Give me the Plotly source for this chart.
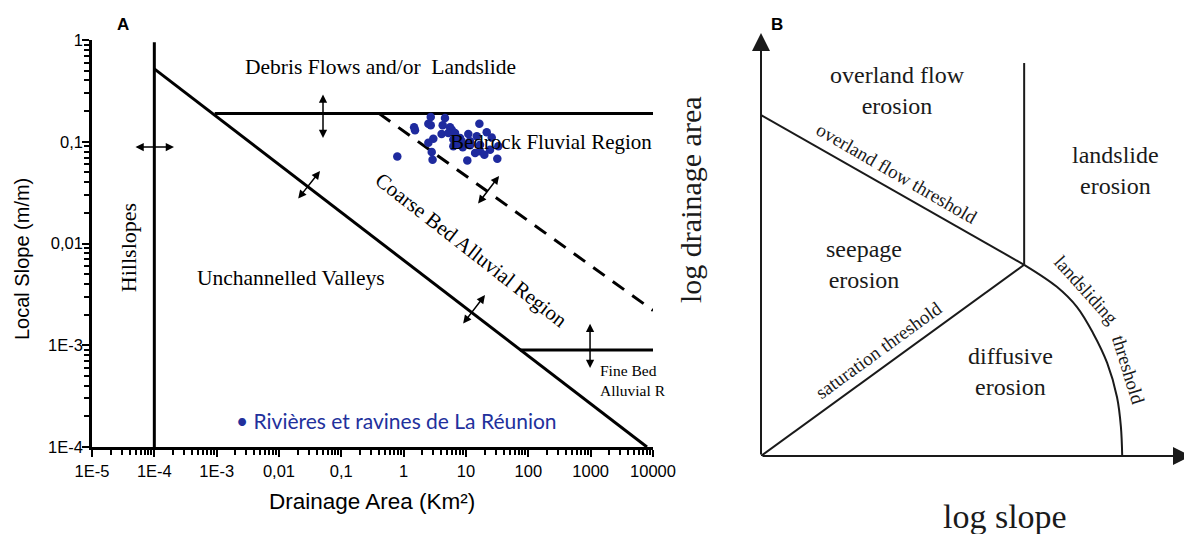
import math
import plotly.graph_objects as go

# ---------------- Panel A : axes ticks ----------------
area_ticks = [1e-5, 1e-4, 1e-3, 1e-2, 1e-1, 1, 10, 100, 1000, 10000]
area_labels = ["1E-5", "1E-4", "1E-3", "0,01", "0,1", "1", "10", "100", "1000", "10000"]
slope_ticks = [1e-4, 1e-3, 1e-2, 1e-1, 1]
slope_labels = ["1E-4", "1E-3", "0,01", "0,1", "1"]

# ---------------- Panel A : Réunion rivers (area km², slope m/m) ----------------
reunion_area = [2.72, 4.60, 1.47, 1.52, 2.49, 2.72, 4.23, 5.55, 5.90, 16.4,
                4.06, 2.99, 2.49, 6.67, 6.27, 8.02, 10.9, 8.53, 11.6, 14.9,
                21.5, 25.9, 6.27, 8.87, 11.6, 16.8, 24.3, 33.0, 2.82, 2.91,
                0.79, 10.5, 14.0, 16.8, 19.7, 31.8, 7.08, 5.21]
reunion_slope = [0.175, 0.171, 0.139, 0.130, 0.150, 0.145, 0.145, 0.139, 0.131, 0.150,
                 0.119, 0.107, 0.0977, 0.122, 0.105, 0.109, 0.119, 0.101, 0.101, 0.113,
                 0.124, 0.110, 0.0902, 0.0881, 0.0923, 0.0935, 0.0834, 0.0902, 0.0793, 0.0665,
                 0.0718, 0.0656, 0.0774, 0.0805, 0.0745, 0.0681, 0.0935, 0.122]

# ---------------- Panel A : process-domain boundaries ----------------
hillslope_x = [1e-4, 1e-4]
hillslope_y = [1e-4, 0.95]
valley_x = [1e-4, 8000]
valley_y = [0.52, 1e-4]
debris_x = [9.3e-4, 1e4]
debris_y = [0.19, 0.19]
bedrock_x = [0.40, 1e4]
bedrock_y = [0.19, 0.0022]
finebed_x = [74, 1e4]
finebed_y = [9e-4, 9e-4]

# double arrows: (x0, y0, x1, y1)
arrows_a = [
    (4.72e-5, 0.0887, 2.07e-4, 0.0887),
    (0.0508, 0.301, 0.0508, 0.1086),
    (0.01945, 0.02673, 0.0455, 0.0515),
    (15.0, 0.0239, 33.9, 0.0460),
    (8.63, 0.00158, 20.2, 0.00311),
    (977, 0.001687, 977, 0.000596),
]

# ---------------- Panel B : schematic (log slope, log drainage area) ----------------
overland_x = [0, 6.12]
overland_y = [8.06, 4.52]
ls_bound_x = [6.12, 6.12]
ls_bound_y = [4.52, 9.29]
saturation_x = [0, 6.12]
saturation_y = [0, 4.52]
landslide_x = [6.12, 6.88, 7.35, 7.72, 8.05, 8.28, 8.37, 8.40]
landslide_y = [4.52, 4.00, 3.52, 2.91, 2.20, 1.39, 0.69, 0.0]

# page body has an 8px margin: figure is drawn at (8, 8) in the window
OFF = 8
W, H = 1192 - OFF, 534 - OFF
BLACK = "#000000"
INK = "#1a1a1a"
DOT = "#1e2a9e"
SERIF = "Liberation Serif"
SANS = "Liberation Sans"


def px(x):
    return (x - OFF) / W


def py(y):
    return (H - (y - OFF)) / H


fig = go.Figure()


def line_a(xs, ys, dash=None, width=3):
    fig.add_trace(go.Scatter(x=xs, y=ys, mode="lines", xaxis="x", yaxis="y",
                             line=dict(color=BLACK, width=width, dash=dash),
                             showlegend=False, hoverinfo="skip"))


line_a(hillslope_x, hillslope_y)
line_a(valley_x, valley_y)
line_a(debris_x, debris_y)
line_a(bedrock_x, bedrock_y, dash="14px,10px")
line_a(finebed_x, finebed_y)

fig.add_trace(go.Scatter(x=reunion_area, y=reunion_slope, mode="markers",
                         xaxis="x", yaxis="y",
                         marker=dict(color=DOT, size=8.5, line=dict(width=0)),
                         name="Rivières et ravines de La Réunion", showlegend=False))


def line_b(xs, ys, shape="linear"):
    fig.add_trace(go.Scatter(x=xs, y=ys, mode="lines", xaxis="x2", yaxis="y2",
                             line=dict(color=INK, width=2, shape=shape),
                             showlegend=False, hoverinfo="skip"))


line_b(overland_x, overland_y)
line_b(ls_bound_x, ls_bound_y)
line_b(saturation_x, saturation_y)
line_b(landslide_x, landslide_y, shape="spline")

ann = []
L = math.log10
for (x0, y0, x1, y1) in arrows_a:
    ann.append(dict(x=L(x1), y=L(y1), ax=L(x0), ay=L(y0), xref="x", yref="y",
                    axref="x", ayref="y", text="", showarrow=True, arrowhead=2,
                    arrowside="end+start", arrowsize=1.1, arrowwidth=1.5,
                    arrowcolor=BLACK))


def txt_a(text, x, y, size=21, angle=0, xanchor="center", font=SERIF, color=BLACK,
          align="center"):
    ann.append(dict(text=text, x=L(x), y=L(y), xref="x", yref="y", showarrow=False,
                    textangle=angle, xanchor=xanchor, yanchor="middle", align=align,
                    font=dict(family=font, size=size, color=color)))


txt_a("Debris Flows and/or\u00a0 Landslide", 0.418, 0.543, size=21.5)
txt_a("Bedrock Fluvial Region", 231, 0.0993)
txt_a("Coarse Bed Alluvial Region", 12.05, 0.0086, angle=38)
txt_a("Unchannelled Valleys", 0.0156, 0.00457, size=21.5)
txt_a("Hillslopes", 3.78e-5, 0.0090, angle=-90, size=22)
txt_a("Fine Bed<br>Alluvial R", 1312, 4.5e-4, size=15.5, xanchor="left", align="left")


def txt_p(text, x, y, size, angle=0, font=SANS, color=BLACK, xanchor="center"):
    ann.append(dict(text=text, x=px(x), y=py(y), xref="paper", yref="paper",
                    showarrow=False, textangle=angle, xanchor=xanchor, yanchor="middle",
                    font=dict(family=font, size=size, color=color)))


txt_p("<b>A</b>", 123, 24, 17)
txt_p("<b>B</b>", 777, 24, 17)
txt_p("Local Slope (m/m)", 22, 259, 20, angle=-90)
txt_p("Drainage Area (Km²)", 372, 501, 22.5)
txt_p("• Rivières et ravines de La Réunion", 234, 420, 21, font="Lato",
      color="#22309c", xanchor="left")
txt_p("log slope", 1005, 516, 34, font=SERIF, color=INK)
txt_p("log drainage area", 690, 200, 30, angle=-90, font=SERIF, color=INK)

# panel B axis arrows
ann.append(dict(x=0, y=10, ax=0, ay=0, xref="x2", yref="y2", axref="x2", ayref="y2",
                text="", showarrow=True, arrowhead=2, arrowsize=1.8, arrowwidth=2,
                arrowcolor=INK))
ann.append(dict(x=10, y=0, ax=0, ay=0, xref="x2", yref="y2", axref="x2", ayref="y2",
                text="", showarrow=True, arrowhead=2, arrowsize=1.8, arrowwidth=2,
                arrowcolor=INK))


def txt_b(text, x, y, size=24, angle=0):
    ann.append(dict(text=text, x=x, y=y, xref="x2", yref="y2", showarrow=False,
                    textangle=angle, font=dict(family=SERIF, size=size, color=INK)))


txt_b("overland flow<br>erosion", 3.163, 8.64)
txt_b("landslide<br>erosion", 8.233, 6.75)
txt_b("seepage<br>erosion", 2.385, 4.53)
txt_b("diffusive<br>erosion", 5.791, 1.99)
txt_b("overland flow threshold", 3.163, 6.690, size=19, angle=30)
txt_b("saturation threshold", 2.721, 2.506, size=19, angle=-36)
txt_b("landsliding", 7.581, 3.924, size=19, angle=48)
txt_b("threshold", 8.558, 2.033, size=19, angle=73)

minor_x = [m * 10.0 ** e for e in range(-5, 4) for m in range(2, 10)]
minor_y = [m * 10.0 ** e for e in range(-4, 0) for m in range(2, 10)]

axis_common = dict(type="log", showgrid=False, zeroline=False, showline=True,
                   linecolor=BLACK, linewidth=2.5, ticks="outside", ticklen=7,
                   tickwidth=2, tickcolor=BLACK, automargin=False,
                   tickfont=dict(family=SANS, size=16.5, color=BLACK))

fig.update_layout(
    width=W, height=H,
    margin=dict(l=0, r=0, t=0, b=0, pad=0),
    paper_bgcolor="white", plot_bgcolor="white",
    showlegend=False,
    xaxis=dict(domain=[px(92), px(653)], range=[-5, 4], tickmode="array",
               tickvals=area_ticks, ticktext=area_labels,
               minor=dict(tickmode="array", tickvals=minor_x, ticks="outside",
                          ticklen=5, tickwidth=1.5, tickcolor=BLACK, showgrid=False),
               anchor="y", **axis_common),
    yaxis=dict(domain=[py(447), py(40)], range=[-4, 0], tickmode="array",
               tickvals=slope_ticks, ticktext=slope_labels, ticklabelstandoff=-4,
               minor=dict(tickmode="array", tickvals=minor_y, ticks="outside",
                          ticklen=5, tickwidth=1.5, tickcolor=BLACK, showgrid=False),
               anchor="x", **axis_common),
    xaxis2=dict(domain=[px(761), px(1191)], range=[0, 10], visible=False, anchor="y2",
                automargin=False),
    yaxis2=dict(domain=[py(456), py(33)], range=[0, 10], visible=False,
                anchor="x2", automargin=False),
    annotations=ann,
)

fig.write_html("out.html")
